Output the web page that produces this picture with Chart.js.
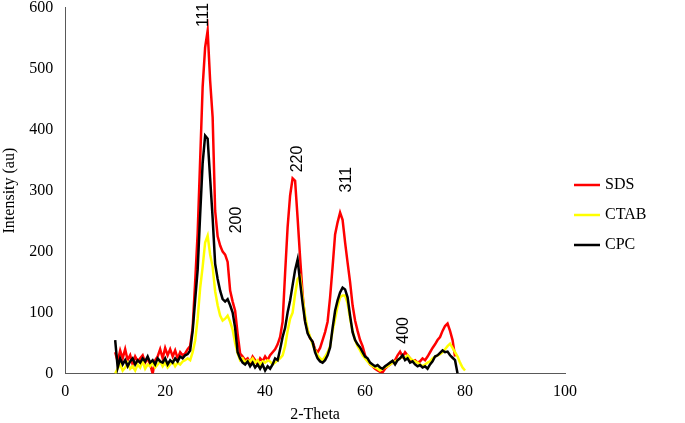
<!DOCTYPE html>
<html lang="en">
<head>
    <meta charset="UTF-8">
    <title>XRD</title>
    <script src="https://cdn.jsdelivr.net/npm/chart.js"></script>
    <style>
        body { margin: 0; background: #fff; }
    </style>
</head>
<body>
    <canvas id="myChart" width="685" height="423"></canvas>
<script>
    // 2-theta sampling (0.5 deg steps)
    const twoTheta = [
        10, 10.5, 11, 11.5, 12, 12.5, 13, 13.5, 14, 14.5,
        15, 15.5, 16, 16.5, 17, 17.5, 18, 18.5, 19, 19.5,
        20, 20.5, 21, 21.5, 22, 22.5, 23, 23.5, 24, 24.5,
        25, 25.5, 26, 26.5, 27, 27.5, 28, 28.5, 29, 29.5,
        30, 30.5, 31, 31.5, 32, 32.5, 33, 33.5, 34, 34.5,
        35, 35.5, 36, 36.5, 37, 37.5, 38, 38.5, 39, 39.5,
        40, 40.5, 41, 41.5, 42, 42.5, 43, 43.5, 44, 44.5,
        45, 45.5, 46, 46.5, 47, 47.5, 48, 48.5, 49, 49.5,
        50, 50.5, 51, 51.5, 52, 52.5, 53, 53.5, 54, 54.5,
        55, 55.5, 56, 56.5, 57, 57.5, 58, 58.5, 59, 59.5,
        60, 60.5, 61, 61.5, 62, 62.5, 63, 63.5, 64, 64.5,
        65, 65.5, 66, 66.5, 67, 67.5, 68, 68.5, 69, 69.5,
        70, 70.5, 71, 71.5, 72, 72.5, 73, 73.5, 74, 74.5,
        75, 75.5, 76, 76.5, 77, 77.5, 78, 78.5, 79, 79.5,
        80
    ];

    const sds = [
        35, 20, 38, 25, 40, 22, 30, 15, 28, 20,
        25, 30, 18, 25, 15, 0, 22, 28, 40, 25,
        42, 30, 40, 28, 38, 25, 35, 30, 33, 40,
        45, 75, 150, 230, 350, 470, 535, 562, 480, 420,
        267, 225, 210, 200, 195, 183, 136, 118, 103, 65,
        33, 28, 22, 25, 18, 28, 22, 15, 25, 20,
        28, 22, 30, 35, 40, 48, 60, 85, 165, 240,
        292, 320, 316, 255, 190, 130, 87, 70, 58, 52,
        40, 35, 42, 55, 68, 85, 125, 175, 228, 248,
        264, 252, 215, 182, 150, 112, 87, 70, 55, 45,
        30, 22, 15, 12, 8, 5, 3, 2, 8, 12,
        15, 18, 22, 30, 36, 28, 35, 30, 25, 20,
        22, 18, 20, 25, 22, 28, 35, 42, 48, 55,
        60, 70, 78, 82, 70, 55, 28, null, null, null,
        null
    ];

    const ctab = [
        0, 8, 15, 5, 10, 18, 8, 12, 5, 15,
        10, 20, 8, 15, 12, 18, 10, 15, 20, 12,
        18, 10, 15, 20, 12, 18, 15, 20, 22, 25,
        22, 35, 54, 90, 140, 175, 215, 226, 195, 175,
        135, 112, 95, 87, 90, 95, 85, 72, 50, 33,
        22, 25, 18, 22, 20, 25, 18, 22, 15, 20,
        18, 22, 20, 15, 18, 22, 25, 30, 45, 70,
        90, 100, 130, 155, 160, 125, 95, 72, 60, 48,
        38, 30, 25, 22, 28, 35, 45, 70, 90, 110,
        125, 128, 128, 115, 90, 70, 55, 45, 38, 30,
        25, 20, 15, 12, 10, 8, 5, 8, 10, 12,
        15, 18, 20, 22, 25, 28, 25, 30, 25, 22,
        20, 18, 15, 12, 15, 18, 20, 25, 28, 30,
        32, 35, 40, 45, 49, 42, 35, 28, 18, 10,
        5
    ];

    const cpc = [
        55, 10, 25, 15, 22, 12, 20, 25, 15, 22,
        18, 25, 20, 28, 18, 22, 15, 25, 20, 18,
        25, 15, 22, 18, 25, 20, 28, 25, 30, 32,
        38, 70, 120, 170, 260, 345, 390, 385, 320, 255,
        180, 155, 136, 122, 118, 122, 112, 100, 75, 35,
        25, 18, 15, 20, 12, 18, 10, 15, 8, 15,
        5, 12, 8, 15, 25, 22, 40, 60, 75, 100,
        120, 145, 170, 187, 150, 115, 85, 66, 58, 52,
        35, 25, 20, 18, 22, 30, 43, 75, 103, 120,
        133, 141, 138, 125, 95, 68, 55, 48, 43, 35,
        28, 25, 18, 15, 12, 14, 10, 8, 12, 15,
        18, 21, 15, 22, 25, 30, 22, 25, 18, 20,
        15, 12, 14, 10, 12, 8, 15, 20, 28, 30,
        34, 38, 35, 36, 30, 26, 22, 0, null, null,
        null
    ];

    // peak labels (hkl) and where they sit
    const peakLabels = ['111', '200', '220', '311', '400'];
    const peakX = [27.7, 34.2, 46.4, 56.4, 67.8];
    const peakY = [568, 230, 330, 297, 49];

    const seriesNames = ['SDS', 'CTAB', 'CPC'];
    const seriesColors = ['#ff0000', '#ffff00', '#000000'];

    const toPoints = (ys) => twoTheta.map((x, i) => ({ x: x, y: ys[i] }));

    const serif = 'Liberation Serif, Times New Roman, serif';

    // hkl labels, rotated like in the original figure
    const peakLabelPlugin = {
        id: 'peakLabels',
        afterDatasetsDraw(chart) {
            const ctx = chart.ctx;
            const xs = chart.scales.x, ys = chart.scales.y;
            ctx.save();
            ctx.fillStyle = '#000';
            ctx.font = '16px Liberation Sans, Arial, sans-serif';
            ctx.textAlign = 'left';
            ctx.textBaseline = 'middle';
            peakLabels.forEach((t, i) => {
                ctx.save();
                ctx.translate(xs.getPixelForValue(peakX[i]), ys.getPixelForValue(peakY[i]));
                ctx.rotate(-Math.PI / 2);
                ctx.fillText(t, 0, 0);
                ctx.restore();
            });
            ctx.restore();
        }
    };

    // legend on the right, line samples
    const sideLegend = {
        id: 'sideLegend',
        afterDraw(chart) {
            const ctx = chart.ctx;
            ctx.save();
            ctx.font = '16px ' + serif;
            ctx.textBaseline = 'middle';
            ctx.textAlign = 'left';
            seriesNames.forEach((name, i) => {
                const y = 185 + i * 30;
                ctx.strokeStyle = seriesColors[i];
                ctx.lineWidth = 2.5;
                ctx.beginPath();
                ctx.moveTo(574, y);
                ctx.lineTo(600, y);
                ctx.stroke();
                ctx.fillStyle = '#000';
                ctx.fillText(name, 605, y);
            });
            ctx.restore();
        }
    };

    new Chart(document.getElementById('myChart'), {
        type: 'line',
        data: {
            datasets: [
                { label: 'SDS', data: toPoints(sds), borderColor: seriesColors[0], order: 3 },
                { label: 'CTAB', data: toPoints(ctab), borderColor: seriesColors[1], order: 2 },
                { label: 'CPC', data: toPoints(cpc), borderColor: seriesColors[2], order: 1 }
            ]
        },
        options: {
            responsive: false,
            animation: false,
            devicePixelRatio: 1,
            spanGaps: false,
            elements: {
                point: { radius: 0 },
                line: { borderWidth: 2.5, tension: 0 }
            },
            layout: {
                padding: { left: 0, right: 120, top: -17, bottom: -1 }
            },
            scales: {
                x: {
                    type: 'linear',
                    min: 0,
                    max: 100,
                    grid: { display: false },
                    border: { color: '#595959', width: 1 },
                    ticks: {
                        stepSize: 20,
                        color: '#000',
                        padding: 1,
                        font: { family: serif, size: 16 }
                    },
                    title: {
                        display: true,
                        text: '2-Theta',
                        color: '#000',
                        padding: { top: 2, bottom: 0 },
                        font: { family: serif, size: 16 }
                    }
                },
                y: {
                    min: 0,
                    max: 600,
                    grid: { display: false },
                    border: { color: '#595959', width: 1 },
                    ticks: {
                        stepSize: 100,
                        color: '#000',
                        padding: 4,
                        font: { family: serif, size: 16, lineHeight: 0.45 }
                    },
                    title: {
                        display: true,
                        text: 'Intensity (au)',
                        color: '#000',
                        padding: { top: 0, bottom: 6 },
                        font: { family: serif, size: 16 }
                    }
                }
            },
            plugins: {
                legend: { display: false },
                tooltip: { enabled: false }
            }
        },
        plugins: [peakLabelPlugin, sideLegend]
    });
</script>
</body>
</html>
